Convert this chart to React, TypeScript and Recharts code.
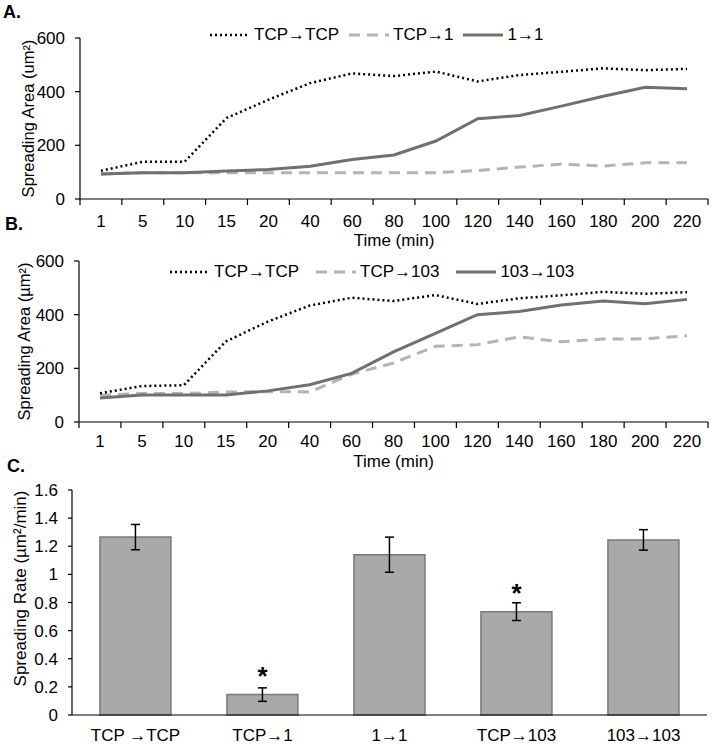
import React from 'react';
import { LineChart, Line, XAxis, YAxis, BarChart, Bar, ErrorBar, LabelList } from 'recharts';

const FONT = '"Liberation Sans", Arial, sans-serif';

// ---- Panel A & B: spreading area over time ----
const timeLabels = ['1', '5', '10', '15', '20', '40', '60', '80', '100', '120', '140', '160', '180', '200', '220'];
const areaTicks = [0, 200, 400, 600];

const aTcpTcp = [105, 139, 139, 302, 370, 432, 468, 458, 475, 438, 462, 474, 487, 480, 485];
const aTcp1 = [93, 98, 98, 98, 98, 98, 98, 98, 98, 106, 119, 130, 123, 135, 135];
const aOneOne = [93, 98, 98, 104, 110, 122, 147, 164, 216, 299, 311, 346, 383, 416, 411];

const bTcpTcp = [107, 134, 137, 300, 374, 434, 463, 451, 473, 440, 461, 472, 485, 478, 484];
const bTcp103 = [100, 106, 106, 112, 113, 112, 178, 220, 282, 288, 317, 299, 309, 310, 321];
const b103103 = [89, 101, 101, 101, 116, 139, 181, 261, 330, 400, 412, 436, 451, 441, 457];

// ---- Panel C: spreading rate ----
const rateLabels = ['TCP \u2192TCP', 'TCP\u21921', '1\u21921', 'TCP\u2192103', '103\u2192103'];
const rateMeans = [1.265, 0.145, 1.14, 0.735, 1.245];
const rateErrors = [0.09, 0.048, 0.125, 0.063, 0.073];
const rateMarks = ['', '*', '', '*', ''];
const rateTicks = [0, 0.2, 0.4, 0.6, 0.8, 1, 1.2, 1.4, 1.6];

const dataA = timeLabels.map((t, i) => ({ time: t, s1: aTcpTcp[i], s2: aTcp1[i], s3: aOneOne[i] }));
const dataB = timeLabels.map((t, i) => ({ time: t, s1: bTcpTcp[i], s2: bTcp103[i], s3: b103103[i] }));
const dataC = rateLabels.map((c, i) => ({ cat: c, mean: rateMeans[i], err: rateErrors[i], mark: rateMarks[i] }));

const TICK_SIZE = 6;

const DOTTED = { stroke: '#000', strokeWidth: 2.5, strokeDasharray: '2 3' };
const DASHED = { stroke: '#b4b4b4', strokeWidth: 3, strokeDasharray: '11 7' };
const SOLID = { stroke: '#707070', strokeWidth: 3 };

function makeBoundaryTick(count: number, band: number, tickMargin: number) {
  return (props: any) => {
    const { x, y, payload, index } = props;
    const half = band / 2;
    const axisY = y - TICK_SIZE - tickMargin;
    return (
      <g>
        <line x1={x - half} y1={axisY} x2={x - half} y2={axisY + 6} stroke="#000" strokeWidth={1.2} />
        {index === count - 1 ? (
          <line x1={x + half} y1={axisY} x2={x + half} y2={axisY + 6} stroke="#000" strokeWidth={1.2} />
        ) : null}
        <text x={x} y={y} dy="0.71em" textAnchor="middle" fontSize={17} fill="#000" fontFamily={FONT}>
          {payload.value}
        </text>
      </g>
    );
  };
}

const xTitle = (text: string, dy: number) => (props: any) => {
  const vb = props.viewBox || {};
  return (
    <text x={vb.x + vb.width / 2} y={vb.y + dy} textAnchor="middle" dominantBaseline="central" fontSize={17} fill="#000" fontFamily={FONT}>
      {text}
    </text>
  );
};

const yTitle = (text: string, cx: number, dy: number, fontSize: number) => (props: any) => {
  const vb = props.viewBox || {};
  const cy = vb.y + vb.height / 2 + dy;
  return (
    <text
      x={cx}
      y={cy}
      transform={`rotate(-90, ${cx}, ${cy})`}
      textAnchor="middle"
      dominantBaseline="central"
      fontSize={fontSize}
      fill="#000"
      fontFamily={FONT}
    >
      {text}
    </text>
  );
};

const StarLabel = (props: any) => {
  const { x, y, width, value } = props;
  if (!value) return null;
  return (
    <text x={x + width / 2} y={y - 10} textAnchor="middle" fontSize={26} fontWeight="bold" fill="#000" fontFamily={FONT}>
      {value}
    </text>
  );
};

function LegendSample({ style }: { style: any }) {
  return (
    <svg width={40} height={10} style={{ display: 'block' }}>
      <line x1={0} y1={5} x2={40} y2={5} {...style} />
    </svg>
  );
}

function LegendRow({ items, left, top, gap }: { items: { label: string; style: any }[]; left: number; top: number; gap: number }) {
  return (
    <div
      style={{
        position: 'absolute',
        left,
        top,
        display: 'flex',
        alignItems: 'center',
        fontFamily: FONT,
        fontSize: 17,
        color: '#000',
        whiteSpace: 'nowrap',
        lineHeight: '20px',
      }}
    >
      {items.map((it, i) => (
        <div key={i} style={{ display: 'flex', alignItems: 'center', marginLeft: i === 0 ? 0 : gap }}>
          <LegendSample style={it.style} />
          <span style={{ marginLeft: 4 }}>{it.label}</span>
        </div>
      ))}
    </div>
  );
}

const panelLetter = (text: string, left: number, top: number) => (
  <div style={{ position: 'absolute', left, top, fontFamily: FONT, fontWeight: 'bold', fontSize: 18, lineHeight: '20px', color: '#000' }}>
    {text}
  </div>
);

function AreaPanel({ data, top, yTitleText, plotTop, yAxisWidth, labelCx, tickMargin, titleDy }: any) {
  const height = 256;
  const marginTop = plotTop - top;
  const plotRight = 708;
  const band = (plotRight - yAxisWidth) / timeLabels.length;
  return (
    <div style={{ position: 'absolute', left: 0, top }}>
      <LineChart width={716} height={height} data={data} margin={{ top: marginTop, right: 716 - plotRight, bottom: height - marginTop - 161 - 41, left: 0 }}>
        <XAxis
          dataKey="time"
          interval={0}
          height={41}
          padding={{ left: band / 2, right: band / 2 }}
          axisLine={{ stroke: '#000', strokeWidth: 1.2 }}
          tickLine={false}
          tickSize={TICK_SIZE}
          tickMargin={tickMargin}
          tick={makeBoundaryTick(timeLabels.length, band, tickMargin)}
          label={xTitle('Time (min)', titleDy)}
        />
        <YAxis
          width={yAxisWidth}
          domain={[0, 600]}
          ticks={areaTicks}
          interval={0}
          axisLine={{ stroke: '#000', strokeWidth: 1.2 }}
          tickLine={{ stroke: '#000', strokeWidth: 1.2 }}
          tickSize={5}
          tickMargin={10}
          tick={{ fontSize: 17, fill: '#000', fontFamily: FONT }}
          label={yTitle(yTitleText, labelCx, 0, 16.5)}
        />
        <Line type="linear" dataKey="s2" dot={false} activeDot={false} isAnimationActive={false} {...DASHED} />
        <Line type="linear" dataKey="s3" dot={false} activeDot={false} isAnimationActive={false} {...SOLID} />
        <Line type="linear" dataKey="s1" dot={false} activeDot={false} isAnimationActive={false} {...DOTTED} />
      </LineChart>
    </div>
  );
}

export default function App() {
  return (
    <div style={{ position: 'absolute', left: 0, top: 0, width: 716, height: 745, background: '#fff', overflow: 'hidden' }}>
      <AreaPanel data={dataA} top={0} plotTop={38} yAxisWidth={80} labelCx={28} tickMargin={10} titleDy={41} yTitleText={'Spreading Area (um\u00B2)'} />
      <AreaPanel data={dataB} top={222} plotTop={261} yAxisWidth={79} labelCx={24} tickMargin={7} titleDy={39} yTitleText={'Spreading Area (\u00B5m\u00B2)'} />

      <div style={{ position: 'absolute', left: 0, top: 450 }}>
        <BarChart width={716} height={295} data={dataC} margin={{ top: 40, right: 9, bottom: 0, left: 0 }} barCategoryGap="22%">
          <XAxis
            dataKey="cat"
            interval={0}
            height={30}
            axisLine={{ stroke: '#000', strokeWidth: 1.2 }}
            tickLine={false}
            tickSize={6}
            tickMargin={8}
            tick={{ fontSize: 17, fill: '#000', fontFamily: FONT }}
          />
          <YAxis
            width={72}
            domain={[0, 1.6]}
            ticks={rateTicks}
            interval={0}
            axisLine={{ stroke: '#000', strokeWidth: 1.2 }}
            tickLine={{ stroke: '#000', strokeWidth: 1.2 }}
            tickSize={4}
            tickMargin={10}
            tick={{ fontSize: 17, fill: '#000', fontFamily: FONT }}
            label={yTitle('Spreading Rate (\u00B5m\u00B2/min)', 20, -14, 17)}
          />
          <Bar dataKey="mean" fill="#a9a9a9" stroke="#7a7a7a" strokeWidth={1.5} isAnimationActive={false}>
            <ErrorBar dataKey="err" width={4.5} stroke="#000" strokeWidth={1.5} />
            <LabelList dataKey="mark" content={StarLabel} />
          </Bar>
        </BarChart>
      </div>

      <LegendRow
        left={210}
        top={25}
        gap={10}
        items={[
          { label: 'TCP\u2192TCP', style: DOTTED },
          { label: 'TCP\u21921', style: DASHED },
          { label: '1\u21921', style: SOLID },
        ]}
      />
      <LegendRow
        left={170}
        top={262}
        gap={17}
        items={[
          { label: 'TCP\u2192TCP', style: DOTTED },
          { label: 'TCP\u2192103', style: DASHED },
          { label: '103\u2192103', style: SOLID },
        ]}
      />

      {panelLetter('A.', 3, 2)}
      {panelLetter('B.', 5, 214)}
      {panelLetter('C.', 7, 456)}
    </div>
  );
}
